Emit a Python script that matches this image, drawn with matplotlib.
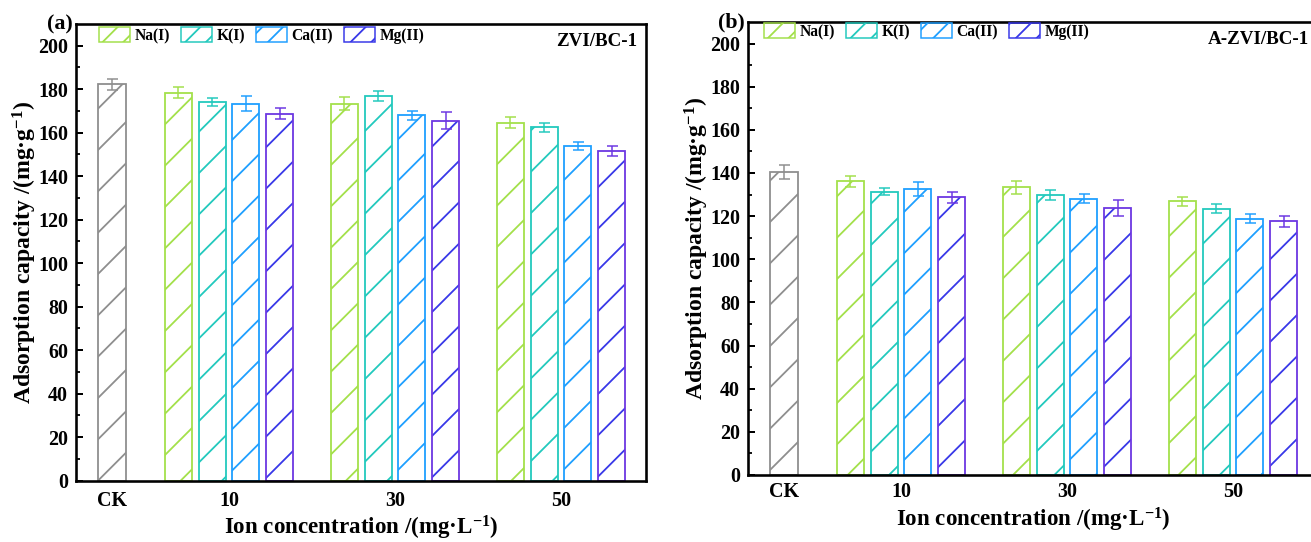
import numpy as np
import matplotlib
matplotlib.use("Agg")
import matplotlib.pyplot as plt
from matplotlib.patches import Patch

# ---------------- data ----------------
concentrations = ["10", "30", "50"]
ions = ["Na(I)", "K(I)", "Ca(II)", "Mg(II)"]

ck_a, ck_a_err = 182.2, 2.6
vals_a = {
    "Na(I)":  [178.3, 173.4, 164.6],
    "K(I)":   [174.3, 176.9, 162.4],
    "Ca(II)": [173.4, 168.0, 153.9],
    "Mg(II)": [168.8, 165.6, 151.6],
}
errs_a = {
    "Na(I)":  [2.5, 3.0, 2.5],
    "K(I)":   [1.8, 2.3, 2.1],
    "Ca(II)": [3.5, 2.2, 1.9],
    "Mg(II)": [2.6, 4.1, 2.3],
}

ck_b, ck_b_err = 140.3, 3.3
vals_b = {
    "Na(I)":  [136.1, 133.4, 126.9],
    "K(I)":   [131.4, 129.7, 123.4],
    "Ca(II)": [132.6, 128.1, 118.7],
    "Mg(II)": [128.7, 123.8, 117.6],
}
errs_b = {
    "Na(I)":  [2.5, 3.0, 2.0],
    "K(I)":   [1.7, 2.4, 2.1],
    "Ca(II)": [3.2, 2.0, 2.1],
    "Mg(II)": [2.6, 3.7, 2.5],
}

panel_tags = ["(a)", "(b)"]
panel_names = ["ZVI/BC-1", "A-ZVI/BC-1"]

# ---------------- style ----------------
ck_color = "#8e8e8e"
edge_colors = ["#a3e04a", "#22c9bd", "#1e9fff", "#6c36e2"]
hatch_colors = ["#a3e04a", "#22c9bd", "#1e9fff", "#3838e8"]

DPI = 124


def px(v):
    return v * 72.0 / DPI


plt.rcParams["font.family"] = ["Liberation Serif", "DejaVu Serif"]
plt.rcParams["font.weight"] = "bold"
plt.rcParams["mathtext.fontset"] = "custom"
plt.rcParams["mathtext.rm"] = "Liberation Serif:bold"
plt.rcParams["mathtext.bf"] = "Liberation Serif:bold"
plt.rcParams["mathtext.default"] = "bf"
plt.rcParams["hatch.linewidth"] = px(1.8)

W, H = 1311, 542
fig = plt.figure(figsize=(W / DPI, H / DPI), dpi=DPI)
ax_a = fig.add_axes([76 / W, (H - 480.5) / H, 570 / W, 456.5 / H])
ax_b = fig.add_axes([748 / W, (H - 475) / H, 570 / W, 453 / H])

step = 0.203
width = 0.163
group_x = np.arange(1, len(concentrations) + 1)
ck_x = 1 - 0.705
offsets = (np.arange(len(ions)) - 1.5) * step


def draw_panel(ax, ck, ck_err, vals, errs, tag, name, tick_pad, xlab_pad, leg_anchor, name_y):
    ax.bar(ck_x, ck, width, color="none", edgecolor=ck_color, hatch="/",
           linewidth=px(1.8), zorder=2)
    ax.errorbar(ck_x, ck, yerr=ck_err, fmt="none", ecolor=ck_color, elinewidth=px(1.5),
                capsize=px(5.5), capthick=px(1.5), zorder=3)
    handles = []
    for i, ion in enumerate(ions):
        xs = group_x + offsets[i]
        ax.bar(xs, vals[ion], width, color="none", edgecolor=hatch_colors[i], hatch="/",
               linewidth=0, zorder=2)
        ax.bar(xs, vals[ion], width, fill=False, edgecolor=edge_colors[i],
               linewidth=px(1.8), zorder=2)
        ax.errorbar(xs, vals[ion], yerr=errs[ion], fmt="none", ecolor=edge_colors[i],
                    elinewidth=px(1.5), capsize=px(5.5), capthick=px(1.5), zorder=3)
        handles.append(Patch(facecolor="none", edgecolor=hatch_colors[i], hatch="//",
                             linewidth=px(1.5), label=ion))

    ax.set_xlim(0.078, 3.512)
    ax.set_ylim(0, 210)
    ax.set_yticks(np.arange(0, 201, 20))
    ax.set_yticks(np.arange(10, 210, 20), minor=True)
    ax.set_xticks([ck_x] + list(group_x))
    ax.set_xticklabels(["CK"] + concentrations)
    ax.tick_params(axis="y", which="major", direction="in", length=px(7), width=px(2),
                   labelsize=px(20), pad=px(8))
    ax.tick_params(axis="y", which="minor", direction="in", length=px(4), width=px(1.8))
    ax.tick_params(axis="x", length=0, labelsize=px(20), pad=px(tick_pad))
    for lab in ax.get_xticklabels() + ax.get_yticklabels():
        lab.set_fontweight("bold")
    for sp in ax.spines.values():
        sp.set_linewidth(px(2.6))

    ax.set_ylabel("Adsorption capacity /(mg·g$^{-1}$)", fontsize=px(23.7), fontweight="bold")
    ax.yaxis.set_label_coords(-0.0895, 0.5)
    ax.yaxis.label.set_verticalalignment("center")
    ax.set_xlabel("Ion concentration /(mg·L$^{-1}$)", fontsize=px(23), fontweight="bold",
                  labelpad=px(xlab_pad))

    ax.legend(handles=handles, loc="upper left", ncol=4, frameon=False,
              bbox_to_anchor=leg_anchor, handlelength=2.0, handleheight=1.15,
              handletextpad=0.3, columnspacing=0.7, borderaxespad=0.0, borderpad=0.0,
              prop={"family": "Liberation Serif", "weight": "bold", "size": px(15.5)})
    ax.text(-0.005, 1.0, tag, transform=ax.transAxes, ha="right", va="center",
            fontsize=px(22), fontweight="bold")
    ax.text(0.985, name_y, name, transform=ax.transAxes, ha="right", va="center",
            fontsize=px(19), fontweight="bold")


draw_panel(ax_a, ck_a, ck_a_err, vals_a, errs_a, panel_tags[0], panel_names[0], 10, 3,
           (23 / 570, 1 - 3 / 456.5), 1 - 18 / 456.5)
draw_panel(ax_b, ck_b, ck_b_err, vals_b, errs_b, panel_tags[1], panel_names[1], 7, 4,
           (16 / 570, 1 - 1 / 453), 1 - 18 / 453)

fig.savefig("out.png", dpi=DPI)
